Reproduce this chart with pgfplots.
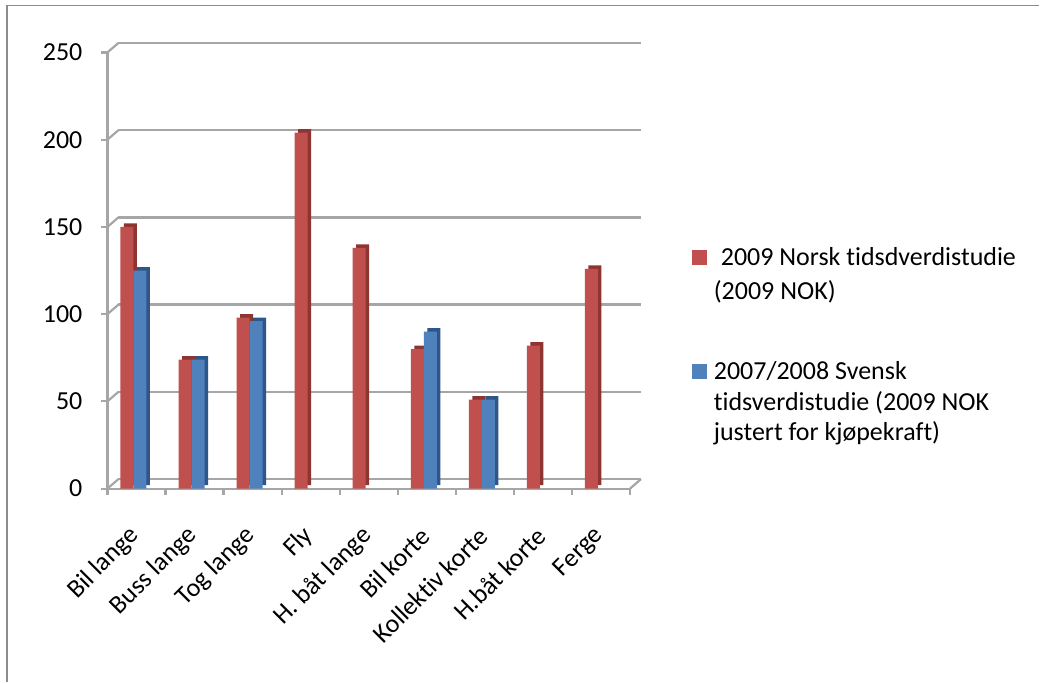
\documentclass[border=0pt]{standalone}
\usepackage{fontspec}
\setmainfont{Carlito}[Ligatures={NoCommon}]
\usepackage{pgfplots}
\pgfplotsset{compat=1.18}
\definecolor{redF}{HTML}{C0504D}
\definecolor{redS}{HTML}{8E3431}
\definecolor{blueF}{HTML}{4F81BD}
\definecolor{blueS}{HTML}{2F5689}
\definecolor{gridc}{HTML}{A6A6A6}
\definecolor{framec}{HTML}{8C8C8C}
\begin{document}
\begin{tikzpicture}[x=1pt,y=1pt]
\fontsize{13}{15.5}\selectfont
\path (0,0) rectangle (520,341.5);
\draw[framec, line width=0.8pt] (3.5,0) -- (3.5,338.75) -- (520,338.75);
\begin{axis}[
  at={(53.75pt,97pt)}, anchor=south west,
  scale only axis, width=261.5pt, height=218.25pt,
  xmin=0.5, xmax=9.5, ymin=0, ymax=250,
  clip=false,
  ybar, bar width=6.5pt,
  axis x line*=bottom, axis y line*=left,
  axis line style={gridc, line width=1.1pt},
  tick align=outside, major tick length=3pt,
  tick style={gridc, line width=1.1pt},
  ytick={0,50,...,250},
  ymajorgrids,
  major grid style={gridc, line width=1.3pt, xshift=5.5pt, yshift=4.75pt},
  xtick={0.5,1.5,...,9.5},
  x tick label as interval,
  xticklabels={Bil lange, Buss lange, Tog lange, Fly, H. båt lange, Bil korte, Kollektiv korte, H.båt korte, Ferge},
  xticklabel style={xshift=-0.5pt, yshift=-18.5pt, rotate=45, anchor=east, inner sep=0pt, font=\fontsize{13}{15.5}\selectfont},
  yticklabel style={xshift=-5pt, font=\fontsize{13}{15.5}\selectfont},
  /pgf/number format/assume math mode=true,
]
% back-wall connectors
\pgfplotsinvokeforeach{0,50,100,150,200,250}{
  \draw[gridc, line width=1.1pt] (axis cs:0.5,#1) -- ++(5.5pt,4.75pt);
}
\draw[gridc, line width=1.1pt] (axis cs:9.5,0) -- ++(5.5pt,4.75pt);
% 2009 Norsk tidsdverdistudie (side/top faces, then front)
\addplot[fill=redS, draw=none, bar shift=-4.75pt, xshift=1.75pt, yshift=1.75pt] coordinates {
 (1,150) (2,74) (3,98) (4,204) (5,138) (6,80) (7,51) (8,82) (9,126)};
\addplot[fill=redF, draw=none, bar shift=-4.75pt] coordinates {
 (1,150) (2,74) (3,98) (4,204) (5,138) (6,80) (7,51) (8,82) (9,126)};
% 2007/2008 Svensk tidsverdistudie
\addplot[fill=blueS, draw=none, bar shift=1.75pt, xshift=1.75pt, yshift=1.75pt] coordinates {
 (1,125) (2,74) (3,96) (6,90) (7,51)};
\addplot[fill=blueF, draw=none, bar shift=1.75pt] coordinates {
 (1,125) (2,74) (3,96) (6,90) (7,51)};
\end{axis}
% legend
\fill[redF] (346.5,208.7) rectangle (354,216.2);
\node[anchor=base west, inner sep=0pt] at (360.5,208.5) {2009 Norsk tidsdverdistudie};
\node[anchor=base west, inner sep=0pt] at (357,191.5) {(2009 NOK)};
\fill[blueF] (346.5,152) rectangle (354,159.5);
\node[anchor=base west, inner sep=0pt] at (357,151.5) {2007/2008 Svensk};
\node[anchor=base west, inner sep=0pt] at (357,136) {tidsverdistudie (2009 NOK};
\node[anchor=base west, inner sep=0pt] at (357,121) {justert for kjøpekraft)};
\end{tikzpicture}
\end{document}
